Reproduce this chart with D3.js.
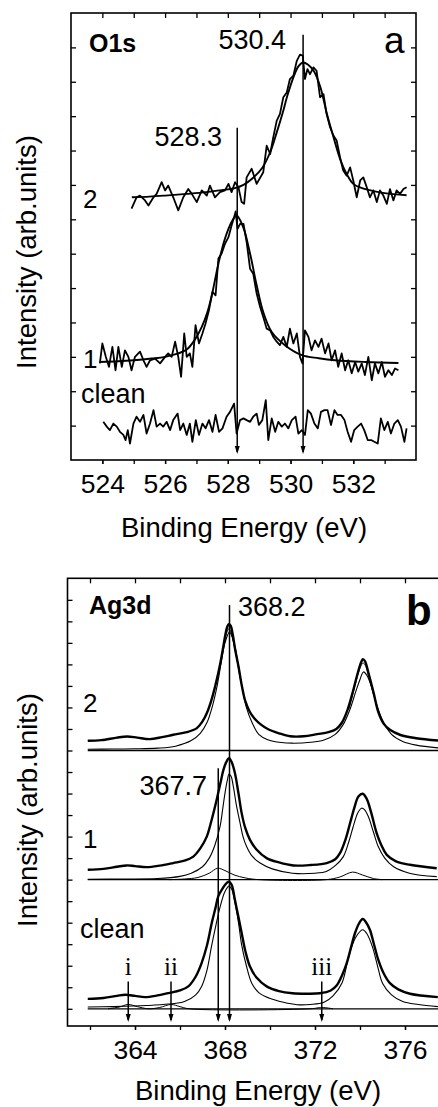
<!DOCTYPE html>
<html><head><meta charset="utf-8">
<script src="https://cdn.jsdelivr.net/npm/d3@7"></script>
<style>
html,body{margin:0;padding:0;background:#fff;}
svg{display:block;}
text{font-family:"Liberation Sans",Arial,Helvetica,sans-serif;fill:#000;}
</style></head>
<body>
<svg id="c" width="438" height="1107"></svg>
<script>
// ---------------- Panel a : O1s ----------------
const o1sTicksMajor = [524, 526, 528, 530, 532];
const o1sTicksMinor = [524, 525, 526, 527, 528, 529, 530, 531, 532, 533];
const o1sYTicks = [1,2,3,4,5,6,7,8,9,10,11,12];
const o1sMarkers = [528.3, 530.4];
const o1sMarkerTops = [9.66, 12.37];

const o1sData2 = [[524.93,7.31],[525.09,7.64],[525.20,7.69],[525.36,7.55],[525.47,7.40],[525.63,7.64],[525.73,7.74],[525.89,8.08],[526.00,7.84],[526.10,7.98],[526.26,7.64],[526.42,7.26],[526.58,7.64],[526.74,7.88],[526.85,7.74],[527.01,7.50],[527.17,7.84],[527.33,7.69],[527.43,7.98],[527.59,7.64],[527.75,7.79],[527.91,7.84],[528.02,8.03],[528.12,7.79],[528.23,8.08],[528.34,7.93],[528.44,7.50],[528.52,7.45],[528.60,8.22],[528.76,8.47],[528.92,8.03],[529.13,8.37],[529.24,9.14],[529.35,8.90],[529.45,9.39],[529.56,9.87],[529.66,10.06],[529.77,10.55],[529.88,10.69],[529.98,11.08],[530.09,11.18],[530.20,11.61],[530.30,11.79],[530.39,11.76],[530.46,11.08],[530.54,11.37],[530.62,11.22],[530.73,11.42],[530.83,11.32],[530.94,10.55],[531.05,10.64],[531.15,10.06],[531.26,9.68],[531.37,9.43],[531.47,9.29],[531.58,8.80],[531.68,8.42],[531.79,8.27],[531.90,8.51],[532.00,8.13],[532.11,7.64],[532.22,8.13],[532.32,8.22],[532.43,7.93],[532.53,7.64],[532.64,7.84],[532.75,7.50],[532.85,7.84],[532.96,7.69],[533.07,7.45],[533.17,7.88],[533.28,7.55],[533.38,7.84],[533.49,7.74],[533.60,7.88],[533.70,7.93]];
const o1sFit2 = [[524.94,7.64],[525.5,7.66],[526.0,7.69],[526.7,7.74],[527.3,7.79],[527.8,7.85],[528.2,7.90],[528.5,8.0],[528.8,8.2],[529.1,8.5],[529.35,8.95],[529.55,9.5],[529.75,10.1],[529.9,10.6],[530.1,11.15],[530.25,11.45],[530.4,11.56],[530.55,11.5],[530.75,11.3],[530.95,10.85],[531.15,10.1],[531.35,9.45],[531.6,8.7],[531.8,8.3],[532.0,8.03],[532.3,7.9],[532.65,7.82],[533.0,7.76],[533.7,7.70]];

const o1sData1 = [[523.92,2.81],[524.00,3.39],[524.11,3.00],[524.21,2.71],[524.32,3.29],[524.42,2.61],[524.51,3.29],[524.62,2.71],[524.72,3.19],[524.83,3.00],[524.93,2.61],[525.04,3.00],[525.20,3.15],[525.31,2.90],[525.41,2.71],[525.52,2.90],[525.68,2.95],[525.84,2.81],[526.00,3.00],[526.10,3.10],[526.21,3.00],[526.32,3.44],[526.42,3.00],[526.51,2.42],[526.61,3.68],[526.69,3.00],[526.79,3.10],[526.87,2.71],[526.97,3.92],[527.08,3.39],[527.19,3.68],[527.29,3.97],[527.40,4.36],[527.51,4.89],[527.61,4.79],[527.70,5.86],[527.80,6.00],[527.91,6.29],[528.02,6.48],[528.12,6.82],[528.20,7.06],[528.25,7.23],[528.31,6.72],[528.39,6.87],[528.50,6.87],[528.60,6.34],[528.71,5.56],[528.81,5.42],[528.92,4.84],[529.03,4.45],[529.13,4.16],[529.24,3.82],[529.35,3.77],[529.45,3.58],[529.56,3.44],[529.66,3.34],[529.77,3.58],[529.88,3.29],[529.98,3.82],[530.09,3.39],[530.20,3.68],[530.30,3.00],[530.38,2.81],[530.46,3.77],[530.57,3.58],[530.67,3.19],[530.78,3.48],[530.89,3.29],[530.99,3.53],[531.10,3.10],[531.21,3.39],[531.31,2.90],[531.42,3.19],[531.52,2.71],[531.63,3.10],[531.74,2.61],[531.84,2.90],[531.95,2.52],[532.06,2.85],[532.16,2.57],[532.27,2.81],[532.37,2.47],[532.48,3.00],[532.59,2.32],[532.69,2.81],[532.80,2.52],[532.91,2.85],[533.01,2.42],[533.12,2.61],[533.23,2.47],[533.33,2.66],[533.44,2.61]];
const o1sFit1 = [[523.92,2.85],[524.5,2.87],[525.0,2.90],[525.57,2.95],[526.0,3.0],[526.42,3.10],[526.7,3.22],[526.95,3.5],[527.17,3.87],[527.35,4.3],[527.49,4.79],[527.70,5.71],[527.91,6.44],[528.12,6.92],[528.28,7.11],[528.49,6.77],[528.71,6.00],[528.92,5.08],[529.13,4.30],[529.40,3.72],[529.82,3.34],[530.36,3.05],[530.9,2.96],[531.42,2.90],[532.4,2.85],[533.44,2.82]];

const o1sClean = [[524.03,1.11],[524.14,0.97],[524.24,0.87],[524.35,1.06],[524.46,0.97],[524.56,0.82],[524.67,0.73],[524.74,0.58],[524.81,0.87],[524.88,0.48],[524.99,1.06],[525.09,1.26],[525.20,1.11],[525.31,1.31],[525.41,0.77],[525.52,1.06],[525.63,1.45],[525.73,0.97],[525.84,1.06],[525.94,0.97],[526.05,1.11],[526.16,0.87],[526.26,1.16],[526.40,1.35],[526.48,0.87],[526.58,1.06],[526.69,0.73],[526.79,1.06],[526.87,0.53],[526.98,1.16],[527.08,0.73],[527.19,1.06],[527.29,0.92],[527.40,1.16],[527.51,0.82],[527.61,1.31],[527.72,0.82],[527.83,0.92],[527.96,1.26],[528.07,1.40],[528.20,1.64],[528.28,0.77],[528.39,1.16],[528.50,1.21],[528.60,1.16],[528.71,1.11],[528.81,1.26],[528.92,1.35],[528.99,1.02],[529.10,1.16],[529.21,1.74],[529.29,0.58],[529.40,1.21],[529.51,0.82],[529.61,1.11],[529.72,0.97],[529.82,1.06],[529.93,0.92],[530.04,1.16],[530.16,1.26],[530.25,0.77],[530.36,0.87],[530.46,0.73],[530.55,1.45],[530.65,1.35],[530.76,1.06],[530.87,0.92],[530.97,1.40],[531.08,1.45],[531.18,1.45],[531.29,1.02],[531.40,1.45],[531.50,1.31],[531.61,1.31],[531.72,1.16],[531.82,0.82],[531.93,0.53],[532.03,0.87],[532.14,0.97],[532.25,1.06],[532.35,0.87],[532.46,0.58],[532.57,0.58],[532.67,0.53],[532.78,0.48],[532.88,1.21],[532.99,0.87],[533.10,1.11],[533.20,0.77],[533.31,1.06],[533.42,1.16],[533.52,0.97],[533.63,0.53],[533.70,0.92]];

// ---------------- Panel b : Ag3d ----------------
const agTicksMajor = [364, 368, 372, 376];
const agTicksMinor = [362, 364, 366, 368, 370, 372, 374, 376, 378];
const agYTicks = [0,1,2,3,4,5,6,7,8,9,10,11,12,13,14,15,16,17,18,19];
const agBaselines = [12, 6, 0];
const agMarkers = [368.2, 367.7];
const agMarkerTops = [18.76, 11.18];
const agArrowPos = [363.7, 365.6, 372.3];
const agArrowLabels = ["i", "ii", "iii"];

const agEnv2 = [[361.9,12.45],[362.5,12.48],[363.2,12.6],[363.65,12.65],[364.1,12.6],[364.65,12.53],[365.2,12.62],[365.7,12.73],[366.3,12.85],[366.75,13.04],[367.0,13.35],[367.2,13.75],[367.4,14.35],[367.56,14.97],[367.7,15.6],[367.8,16.1],[367.92,16.8],[368.02,17.4],[368.1,17.75],[368.17,17.87],[368.25,17.8],[368.35,17.35],[368.45,16.7],[368.6,15.9],[368.75,15.0],[368.9,14.3],[369.1,13.8],[369.3,13.5],[369.6,13.2],[369.9,13.0],[370.4,12.8],[370.9,12.66],[371.5,12.66],[372.1,12.76],[372.6,12.85],[372.95,13.0],[373.2,13.3],[373.45,13.9],[373.7,14.8],[373.9,15.6],[374.05,16.1],[374.13,16.24],[374.22,16.15],[374.4,15.5],[374.6,14.7],[374.81,13.8],[375.05,13.25],[375.33,12.96],[375.8,12.72],[376.5,12.57],[377.5,12.46]];
const agFit2 = [[367.6,15.1],[367.8,16.0],[367.95,16.9],[368.07,17.45],[368.17,17.66],[368.27,17.5],[368.4,16.9],[368.55,16.1],[368.7,15.2],[373.5,13.9],[373.7,14.7],[373.9,15.5],[374.05,15.95],[374.14,16.06],[374.24,15.95],[374.42,15.3],[374.6,14.6]];
const agComp2 = [[361.9,12.06],[363.0,12.07],[364.0,12.08],[365.0,12.11],[365.8,12.2],[366.5,12.46],[366.9,12.8],[367.2,13.3],[367.45,14.1],[367.65,15.0],[367.85,16.2],[368.0,17.0],[368.2,17.5],[368.4,17.0],[368.55,16.2],[368.75,15.0],[368.95,14.0],[369.2,13.3],[369.5,12.75],[369.9,12.5],[370.5,12.37],[371.0,12.34],[371.8,12.38],[372.4,12.49],[372.9,12.75],[373.25,13.2],[373.55,13.9],[373.8,14.7],[374.0,15.3],[374.15,15.65],[374.3,15.5],[374.5,15.0],[374.75,14.1],[375.0,13.4],[375.4,12.75],[375.9,12.42],[376.5,12.25],[377.5,12.12]];

const agEnv1 = [[361.9,6.46],[362.6,6.5],[363.2,6.6],[363.63,6.66],[364.0,6.63],[364.52,6.58],[365.1,6.65],[365.7,6.77],[366.2,6.88],[366.59,7.07],[366.9,7.45],[367.19,8.0],[367.4,8.75],[367.63,9.71],[367.8,10.5],[367.93,11.1],[368.05,11.45],[368.18,11.64],[368.3,11.45],[368.44,10.95],[368.6,10.0],[368.74,9.09],[368.9,8.4],[369.11,7.85],[369.4,7.4],[369.85,7.0],[370.4,6.8],[371.04,6.66],[371.8,6.68],[372.52,6.77],[372.9,6.95],[373.11,7.23],[373.35,7.85],[373.56,8.63],[373.75,9.35],[373.93,9.86],[374.12,9.99],[374.3,9.75],[374.5,9.1],[374.74,8.16],[374.95,7.6],[375.19,7.15],[375.6,6.85],[376.22,6.69],[377.41,6.53]];
const agComp1 = [[361.9,6.02],[363.5,6.03],[365.0,6.05],[366.0,6.15],[366.5,6.3],[367.0,6.6],[367.3,7.0],[367.55,7.6],[367.78,8.47],[367.9,9.3],[368.0,10.02],[368.1,10.6],[368.18,10.91],[368.27,10.8],[368.37,10.33],[368.5,9.5],[368.67,8.63],[368.8,8.0],[368.96,7.54],[369.2,7.1],[369.56,6.77],[370.1,6.5],[371.0,6.3],[372.0,6.3],[372.5,6.38],[372.9,6.65],[373.26,7.07],[373.5,7.75],[373.7,8.47],[373.9,9.1],[374.07,9.32],[374.2,9.25],[374.37,8.93],[374.6,8.2],[374.81,7.54],[375.1,7.0],[375.48,6.61],[376.2,6.3],[377.41,6.14]];
const agSmall1 = [[365.5,6.0],[366.2,6.03],[366.8,6.1],[367.3,6.3],[367.67,6.53],[368.0,6.42],[368.4,6.22],[368.9,6.08],[369.5,6.0],[372.5,6.0],[373.1,6.12],[373.67,6.35],[374.1,6.22],[374.6,6.05],[375.0,6.0]];

const agEnvC = [[361.9,0.46],[362.6,0.5],[363.2,0.6],[363.56,0.65],[364.0,0.6],[364.44,0.54],[365.0,0.62],[365.48,0.73],[366.0,0.85],[366.37,1.04],[366.7,1.5],[366.96,2.12],[367.2,2.95],[367.41,3.98],[367.58,4.7],[367.7,5.22],[367.9,5.6],[368.05,5.82],[368.18,5.9],[368.3,5.75],[368.44,5.06],[368.6,4.25],[368.74,3.52],[368.9,2.7],[369.11,1.96],[369.4,1.45],[369.85,1.04],[370.4,0.82],[371.0,0.72],[371.6,0.7],[372.22,0.72],[372.7,0.85],[372.96,1.08],[373.2,1.55],[373.41,2.12],[373.6,2.85],[373.78,3.52],[373.95,3.95],[374.12,4.17],[374.28,4.0],[374.44,3.67],[374.62,3.0],[374.81,2.28],[375.05,1.65],[375.33,1.19],[375.7,0.9],[376.22,0.7],[377.46,0.54]];
const agCompC = [[361.9,0.08],[363.0,0.1],[364.5,0.15],[365.5,0.22],[366.2,0.34],[366.7,0.65],[366.96,1.04],[367.2,1.8],[367.4,2.9],[367.6,3.9],[367.8,4.8],[368.0,5.45],[368.18,5.7],[368.3,5.55],[368.45,4.9],[368.6,4.0],[368.74,2.97],[368.95,2.0],[369.19,1.19],[369.5,0.75],[369.95,0.5],[370.6,0.3],[371.2,0.19],[371.8,0.2],[372.4,0.3],[372.8,0.6],[373.2,1.2],[373.5,2.43],[373.8,3.3],[374.12,3.67],[374.3,3.5],[374.55,2.89],[374.8,1.9],[375.0,1.19],[375.4,0.65],[375.9,0.34],[376.6,0.2],[377.46,0.1]];
const agSmallC = [[362.8,0.0],[363.3,0.08],[363.7,0.2],[364.1,0.1],[364.6,0.0],[365.1,0.06],[365.6,0.2],[366.0,0.1],[366.4,0.0],[371.8,0.0],[372.3,0.06],[372.8,0.0]];

// ---------------- drawing ----------------
const svg = d3.select("#c");

function frame(g, x0, y0, x1, y1) {
  g.append("rect").attr("x", x0).attr("y", y0).attr("width", x1 - x0).attr("height", y1 - y0)
    .attr("fill", "none").attr("stroke", "#000").attr("stroke-width", 1.6);
}
function styleAxis(sel, fs) {
  sel.select(".domain").remove();
  sel.selectAll(".tick line").attr("stroke", "#000").attr("stroke-width", 1.3);
  sel.selectAll(".tick text").attr("font-size", fs).attr("fill", "#000")
    .attr("font-family", "Liberation Sans, Arial, sans-serif");
}
function arrowDown(g, x, yTop, yBot) {
  g.append("line").attr("x1", x).attr("x2", x).attr("y1", yTop).attr("y2", yBot - 2)
    .attr("stroke", "#000").attr("stroke-width", 1.5);
  g.append("path").attr("d", `M${x - 2.5},${yBot - 8} L${x + 2.5},${yBot - 8} L${x},${yBot} Z`).attr("fill", "#000");
}

// Panel a
{
  const x = d3.scaleLinear().domain([523, 534]).range([71, 416]);
  const y = d3.scaleLinear().domain([0, 13]).range([460, 13]);
  const g = svg.append("g");
  const line = d3.line().x(d => x(d[0])).y(d => y(d[1]));
  const smooth = d3.line().x(d => x(d[0])).y(d => y(d[1])).curve(d3.curveCatmullRom.alpha(0.5));

  styleAxis(g.append("g").attr("transform", "translate(0,460)")
    .call(d3.axisBottom(x).tickValues(o1sTicksMinor).tickSize(4).tickFormat("")), 26);
  styleAxis(g.append("g").attr("transform", "translate(0,460)")
    .call(d3.axisBottom(x).tickValues(o1sTicksMajor).tickSize(4).tickPadding(10).tickFormat(d3.format("d"))), 26.5);
  styleAxis(g.append("g").attr("transform", "translate(0,13)")
    .call(d3.axisTop(x).tickValues(o1sTicksMinor).tickSize(-5).tickFormat("")), 26);
  styleAxis(g.append("g").attr("transform", "translate(71,0)")
    .call(d3.axisLeft(y).tickValues(o1sYTicks).tickSize(-5).tickFormat("")), 26);
  styleAxis(g.append("g").attr("transform", "translate(416,0)")
    .call(d3.axisRight(y).tickValues(o1sYTicks).tickSize(-5).tickFormat("")), 26);
  frame(g, 71, 13, 416, 460);

  const w = 1.8;
  g.append("path").datum(o1sData2).attr("d", line).attr("fill", "none").attr("stroke", "#000").attr("stroke-width", w).attr("stroke-linejoin", "round");
  g.append("path").datum(o1sFit2).attr("d", smooth).attr("fill", "none").attr("stroke", "#000").attr("stroke-width", 1.9);
  g.append("path").datum(o1sData1).attr("d", line).attr("fill", "none").attr("stroke", "#000").attr("stroke-width", w).attr("stroke-linejoin", "round");
  g.append("path").datum(o1sFit1).attr("d", smooth).attr("fill", "none").attr("stroke", "#000").attr("stroke-width", 1.9);
  g.append("path").datum(o1sClean).attr("d", line).attr("fill", "none").attr("stroke", "#000").attr("stroke-width", w).attr("stroke-linejoin", "round");

  o1sMarkers.forEach((m, i) => arrowDown(g, x(m), y(o1sMarkerTops[i]), 454));

  g.append("text").attr("x", 89).attr("y", 52).attr("font-size", 25).attr("font-weight", "bold").text("O1s");
  g.append("text").attr("x", 286).attr("y", 49).attr("font-size", 27).attr("text-anchor", "end").text("530.4");
  g.append("text").attr("x", 222).attr("y", 146).attr("font-size", 27).attr("text-anchor", "end").text("528.3");
  g.append("text").attr("x", 384).attr("y", 53).attr("font-size", 37).text("a");
  g.append("text").attr("x", 83).attr("y", 208).attr("font-size", 26).text("2");
  g.append("text").attr("x", 83).attr("y", 368).attr("font-size", 26).text("1");
  g.append("text").attr("x", 81).attr("y", 403).attr("font-size", 27).text("clean");
  g.append("text").attr("x", 244).attr("y", 537).attr("font-size", 27.5).attr("text-anchor", "middle").text("Binding Energy (eV)");
  g.append("text").attr("transform", "translate(36,252) rotate(-90)").attr("font-size", 27.5).attr("text-anchor", "middle").text("Intensity (arb.units)");
}

// Panel b
{
  const x = d3.scaleLinear().domain([361, 378]).range([67.5, 450]);
  const y = d3.scaleLinear().domain([-0.8, 20]).range([1026, 578.3]);
  const g = svg.append("g");
  const smooth = d3.line().x(d => x(d[0])).y(d => y(d[1])).curve(d3.curveCatmullRom.alpha(0.5));

  styleAxis(g.append("g").attr("transform", "translate(0,1026)")
    .call(d3.axisBottom(x).tickValues(agTicksMinor).tickSize(4).tickFormat("")), 26);
  styleAxis(g.append("g").attr("transform", "translate(0,1026)")
    .call(d3.axisBottom(x).tickValues(agTicksMajor).tickSize(4).tickPadding(10).tickFormat(d3.format("d"))), 26.5);
  styleAxis(g.append("g").attr("transform", "translate(0,578.3)")
    .call(d3.axisTop(x).tickValues(agTicksMinor).tickSize(-5).tickFormat("")), 26);
  styleAxis(g.append("g").attr("transform", "translate(67.5,0)")
    .call(d3.axisLeft(y).tickValues(agYTicks).tickSize(-5).tickFormat("")), 26);
  frame(g, 67.5, 578.3, 450, 1026);

  agBaselines.forEach(b => {
    g.append("line").attr("x1", x(361.9)).attr("x2", 450).attr("y1", y(b)).attr("y2", y(b))
      .attr("stroke", "#000").attr("stroke-width", 1.3);
  });
  [[agEnv2, 2.4], [agComp2, 1.1], [agEnv1, 2.4], [agComp1, 1.1], [agSmall1, 1.0], [agEnvC, 2.4], [agCompC, 1.1], [agSmallC, 1.0]]
    .forEach(([d, w]) => {
      g.append("path").datum(d).attr("d", smooth).attr("fill", "none").attr("stroke", "#000").attr("stroke-width", w);
    });
  // fit-sum segments near peaks of spectrum 2
  [agFit2.slice(0, 9), agFit2.slice(9)].forEach(d => {
    g.append("path").datum(d).attr("d", smooth).attr("fill", "none").attr("stroke", "#000").attr("stroke-width", 1.0);
  });

  agMarkers.forEach((m, i) => arrowDown(g, x(m), y(agMarkerTops[i]), 1022));
  agArrowPos.forEach((m, i) => {
    arrowDown(g, x(m), y(1.27), 1022);
    g.append("text").attr("x", x(m)).attr("y", 975).attr("font-size", 25).attr("text-anchor", "middle")
      .style("font-family", "'Liberation Serif', 'Times New Roman', serif").text(agArrowLabels[i]);
  });

  g.append("text").attr("x", 89).attr("y", 614).attr("font-size", 25).attr("font-weight", "bold").text("Ag3d");
  g.append("text").attr("x", 238).attr("y", 616).attr("font-size", 27).text("368.2");
  g.append("text").attr("x", 207).attr("y", 795).attr("font-size", 27).attr("text-anchor", "end").text("367.7");
  g.append("text").attr("x", 406).attr("y", 625).attr("font-size", 42).attr("font-weight", "bold").text("b");
  g.append("text").attr("x", 83).attr("y", 712).attr("font-size", 26).text("2");
  g.append("text").attr("x", 83).attr("y", 848).attr("font-size", 26).text("1");
  g.append("text").attr("x", 80).attr("y", 938).attr("font-size", 27).text("clean");
  g.append("text").attr("x", 258).attr("y", 1100).attr("font-size", 27.5).attr("text-anchor", "middle").text("Binding Energy (eV)");
  g.append("text").attr("transform", "translate(37,810) rotate(-90)").attr("font-size", 27.5).attr("text-anchor", "middle").text("Intensity (arb.units)");
}
</script>
</body></html>
